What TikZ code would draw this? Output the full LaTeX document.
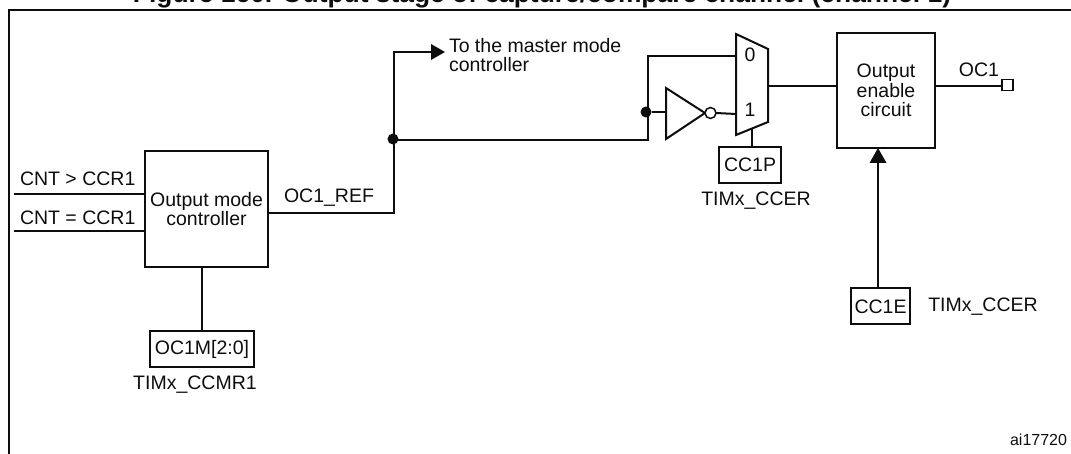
\documentclass[tikz,border=0pt]{standalone}
\usepackage{fontspec}
\setmainfont{Liberation Sans}
\usepackage{xcolor}
\usetikzlibrary{arrows.meta, positioning}
\definecolor{inkblack}{rgb}{0.05,0.05,0.05}

\begin{document}
\begin{tikzpicture}[x=1pt, y=-1pt, inner sep=0pt, outer sep=0pt,
        block/.style={rectangle, draw=inkblack, line width=2pt, align=center, font=\fontsize{19.5}{19.6}\selectfont, text=inkblack},
        regbox/.style={block, minimum height=36pt},
        label/.style={font=\fontsize{19.5}{19}\selectfont, text=inkblack, align=left},
        line/.style={draw=inkblack, line width=2pt},
        dot/.style={circle, fill=inkblack, minimum size=11pt}]
        \useasboundingbox (0,0) rectangle (1071,454);

        \draw [line width=2pt, draw=inkblack] (9,454) -- (9,10) -- (1071,10);
        \node [font=\fontsize{26.4}{28}\selectfont\bfseries, text=inkblack, anchor=base] (title) at (542,3) {Figure 160. Output stage of capture/compare channel (channel 1)};

        \node [block, minimum width=123pt, minimum height=116pt] (ctrl) at (206.5,209) {Output mode\\controller};
        \node [regbox, minimum width=104pt] (ocm) at (202,349) {OC1M[2:0]};
        \node [block, minimum width=98pt, minimum height=115pt] (enable) at (886,90.5) {Output\\enable\\circuit};
        \node [regbox, minimum width=62pt] (ccp) at (750,165) {CC1P};
        \node [regbox, minimum width=59pt] (cce) at (880.5,306.5) {CC1E};
        \node [draw=inkblack, line width=1.8pt, fill=white, minimum size=11pt] (pin) at (1007.5,85) {};

        \coordinate (gt) at (14,194);
        \coordinate (eq) at (14,231);
        \node [dot] (jref) at (393,139) {};
        \node [dot] (jinv) at (646,112) {};

        % mux and inverter
        \draw [line, fill=white] (736,34) -- (768,49) -- (768,122) -- (736,135) -- cycle;
        \draw [line] (666,88) -- (705,113) -- (666,139) -- cycle;
        \node [circle, draw=inkblack, line width=1.5pt, fill=white, minimum size=11pt] (bubble) at (710.5,113) {};
        \node [label] (zero) at (750,55) {0};
        \node [label] (one) at (750,110) {1};

        \path [line] (gt) -- (gt -| ctrl.west);
        \path [line] (eq) -- (eq -| ctrl.west);
        \path [line] (ctrl.east |- 0,213) -- (394,213) -- (394,52) -- (432,52);
        \path [line] (394,140) -- (648,140) -- (648,56) -- (736,56);
        \path [line] (jinv) -- (666,112);
        \path [line] (bubble.east) -- (736,114);
        \path [line] (752,129) -- (752,147);
        \path [line] (768,86) -- (enable.west |- 0,86);
        \path [line] (enable.east |- 0,86) -- (pin.west |- 0,86);
        \path [line] (ctrl.south -| ocm.north) -- (ocm.north);
        \path [line] (878,288) -- (878,160);
        \fill [inkblack] (445,52) -- (431,44) -- (431,60) -- cycle;
        \fill [inkblack] (878,148) -- (869.5,163) -- (886.5,163) -- cycle;

        \node [label, anchor=west] (lgt) at (20,179) {CNT > CCR1};
        \node [label, anchor=west] (leq) at (20,218) {CNT = CCR1};
        \node [label, anchor=west] (lref) at (284,198) {OC1\_REF};
        \node [label, anchor=north west] (lmaster) at (449,38.5) {To the master mode\\controller};
        \node [label] (lccp) at (756,201) {TIMx\_CCER};
        \node [label] (lcce) at (983,307) {TIMx\_CCER};
        \node [label] (locm) at (195,385) {TIMx\_CCMR1};
        \node [label] (loc) at (979,70) {OC1};
        \node [font=\fontsize{16}{18}\selectfont, text=inkblack, anchor=east] (code) at (1067,440) {ai17720};
    \end{tikzpicture}
\end{document}
